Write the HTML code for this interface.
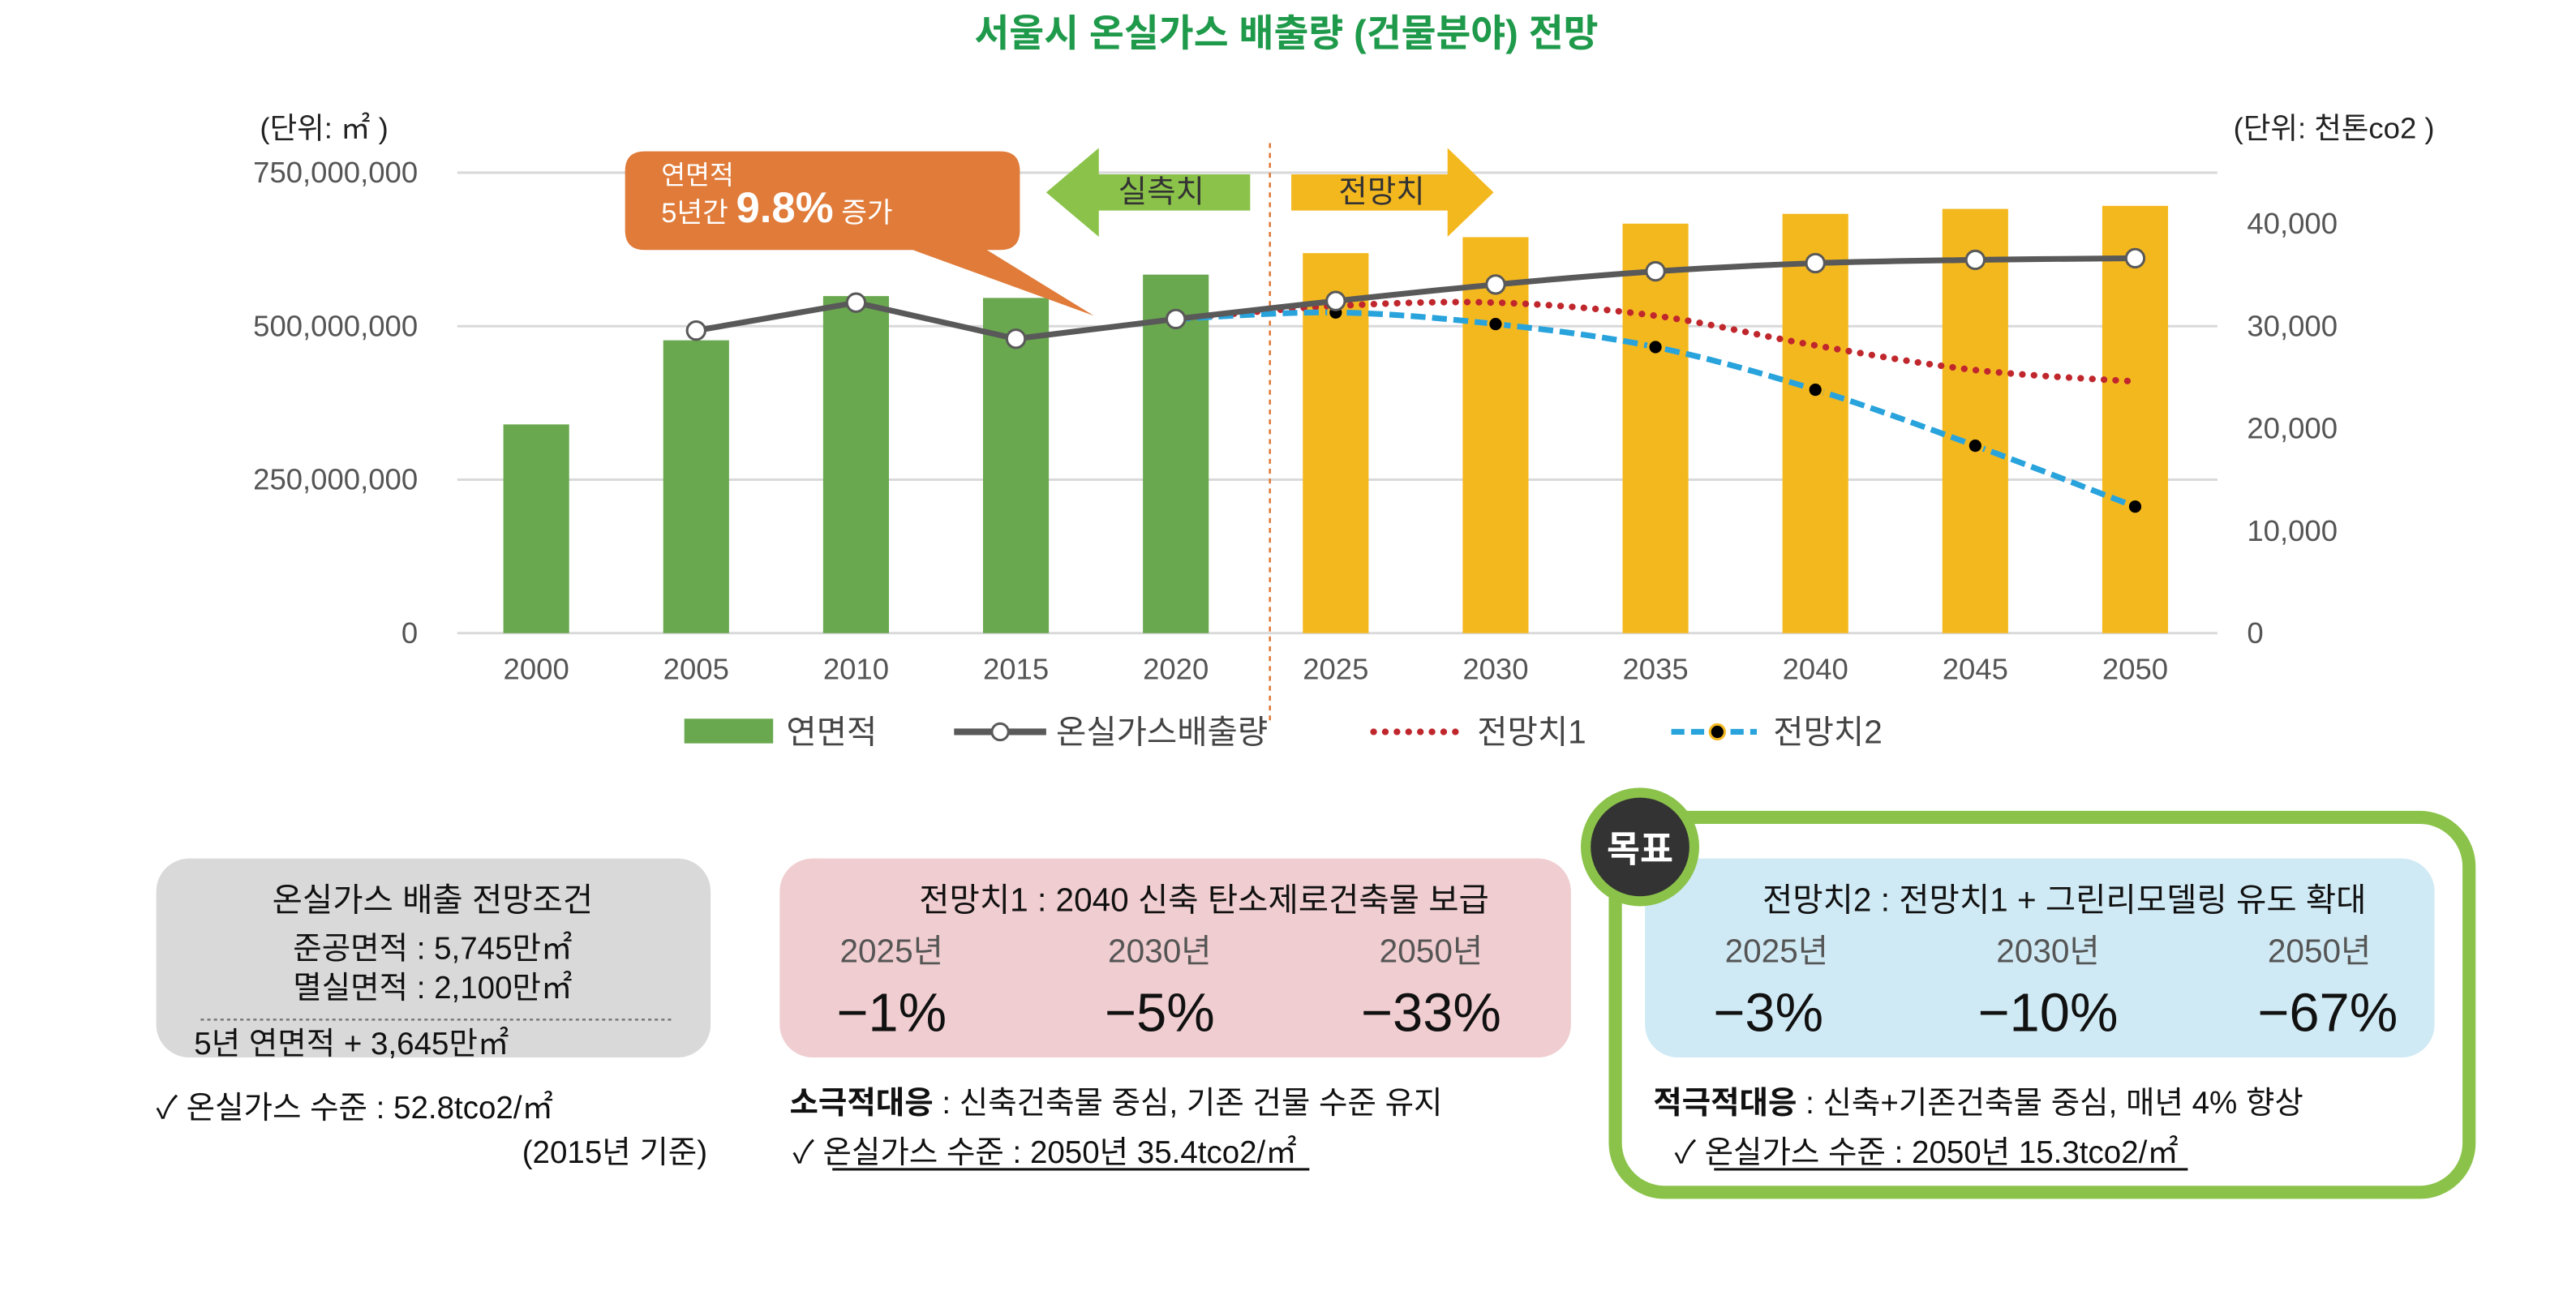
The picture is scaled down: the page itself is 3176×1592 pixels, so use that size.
<!DOCTYPE html>
<html><head><meta charset="utf-8">
<style>
html,body{margin:0;padding:0;background:#fff;}
svg{display:block;font-family:"Liberation Sans","Noto Sans CJK KR",sans-serif;}
</style></head>
<body>
<svg id="chart" width="3176" height="1592" viewBox="0 0 1566 785" preserveAspectRatio="none" xmlns="http://www.w3.org/2000/svg">
<text x="782" y="28" text-anchor="middle" font-size="23" font-weight="bold" fill="#1f9a4b">서울시 온실가스 배출량 (건물분야) 전망</text>
<text x="158" y="84" font-size="18" fill="#222">(단위: ㎡ )</text>
<text x="1480" y="84" text-anchor="end" font-size="18" fill="#222">(단위: 천톤co2 )</text>
<g id="grid"></g>
<g id="bars"></g>
<line x1="772" y1="87" x2="772" y2="440" stroke="#e07b39" stroke-width="1.3" stroke-dasharray="3,3"/>
<g id="lines"></g>
<g>
<path d="M392 92 H608 Q620 92 620 104 V140 Q620 152 608 152 H600 L665 192 L555 152 H392 Q380 152 380 140 V104 Q380 92 392 92 Z" fill="#e07b39"/>
<text x="402" y="112" font-size="16" fill="#fff">연면적</text>
<text x="402" y="135" font-size="17" fill="#fff">5년간 <tspan font-size="26" font-weight="bold">9.8%</tspan> 증가</text>
</g>
<g>
<path d="M636 117 L668 90 V106 H760 V128 H668 V144 Z" fill="#8bc34a"/>
<text x="706" y="123" text-anchor="middle" font-size="19" fill="#333">실측치</text>
</g>
<g>
<path d="M908 117 L880 90 V106 H785 V128 H880 V144 Z" fill="#f4b81f"/>
<text x="840" y="123" text-anchor="middle" font-size="19" fill="#333">전망치</text>
</g>
<g id="legend">
<rect x="416" y="437" width="54" height="15" fill="#6aa84f"/>
<text x="478" y="452" font-size="20" fill="#444">연면적</text>
<line x1="580" y1="445" x2="636" y2="445" stroke="#595959" stroke-width="4"/>
<circle cx="608" cy="445" r="5" fill="#fff" stroke="#595959" stroke-width="1.5"/>
<text x="642" y="452" font-size="20" fill="#444">온실가스배출량</text>
<line x1="835" y1="445" x2="890" y2="445" stroke="#c0272d" stroke-width="4" stroke-dasharray="0.1,7" stroke-linecap="round"/>
<text x="898" y="452" font-size="20" fill="#444">전망치1</text>
<line x1="1016" y1="445" x2="1068" y2="445" stroke="#29a3dc" stroke-width="3.5" stroke-dasharray="8,4"/>
<circle cx="1044" cy="445" r="4.5" fill="#000" stroke="#f4b81f" stroke-width="1.5"/>
<text x="1078" y="452" font-size="20" fill="#444">전망치2</text>
</g>

<g>
<rect x="95" y="522" width="337" height="121" rx="20" fill="#d9d9d9"/>
<text x="263" y="554" text-anchor="middle" font-size="20" fill="#111">온실가스 배출 전망조건</text>
<text x="263" y="583" text-anchor="middle" font-size="19" fill="#111">준공면적 : 5,745만㎡</text>
<text x="263" y="607" text-anchor="middle" font-size="19" fill="#111">멸실면적 : 2,100만㎡</text>
<line x1="122" y1="620" x2="408" y2="620" stroke="#777" stroke-width="1.2" stroke-dasharray="2,2"/>
<text x="118" y="641" font-size="19" fill="#111">5년 연면적  + 3,645만㎡</text>
<text x="95" y="680" font-size="19" fill="#111">✓ 온실가스 수준 : 52.8tco2/㎡</text>
<text x="430" y="707" text-anchor="end" font-size="19" fill="#111">(2015년 기준)</text>
</g>
<g>
<rect x="474" y="522" width="481" height="121" rx="20" fill="#f0cdd0"/>
<text x="732" y="554" text-anchor="middle" font-size="20" fill="#111">전망치1 : 2040 신축 탄소제로건축물 보급</text>
<text x="542" y="585" text-anchor="middle" font-size="20" fill="#555">2025년</text>
<text x="705" y="585" text-anchor="middle" font-size="20" fill="#555">2030년</text>
<text x="870" y="585" text-anchor="middle" font-size="20" fill="#555">2050년</text>
<text x="542" y="627" text-anchor="middle" font-size="33" fill="#111">−1%</text>
<text x="705" y="627" text-anchor="middle" font-size="33" fill="#111">−5%</text>
<text x="870" y="627" text-anchor="middle" font-size="33" fill="#111">−33%</text>
<text x="480" y="677" font-size="19" fill="#111"><tspan font-weight="bold">소극적대응</tspan> : 신축건축물 중심, 기존 건물 수준 유지</text>
<text x="482" y="707" font-size="19" fill="#111">✓ 온실가스 수준 : 2050년 35.4tco2/㎡</text>
<line x1="506" y1="711" x2="796" y2="711" stroke="#111" stroke-width="1.5"/>
</g>
<g>
<rect x="982" y="497" width="519" height="228" rx="30" fill="none" stroke="#8bc34a" stroke-width="8"/>
<rect x="1000" y="522" width="480" height="121" rx="20" fill="#d0eaf5"/>
<circle cx="997" cy="515" r="33" fill="#333" stroke="#8bc34a" stroke-width="6"/>
<text x="997" y="524" text-anchor="middle" font-size="22" font-weight="bold" fill="#fff">목표</text>
<text x="1255" y="554" text-anchor="middle" font-size="20" fill="#111">전망치2 : 전망치1 + 그린리모델링 유도 확대</text>
<text x="1080" y="585" text-anchor="middle" font-size="20" fill="#555">2025년</text>
<text x="1245" y="585" text-anchor="middle" font-size="20" fill="#555">2030년</text>
<text x="1410" y="585" text-anchor="middle" font-size="20" fill="#555">2050년</text>
<text x="1075" y="627" text-anchor="middle" font-size="33" fill="#111">−3%</text>
<text x="1245" y="627" text-anchor="middle" font-size="33" fill="#111">−10%</text>
<text x="1415" y="627" text-anchor="middle" font-size="33" fill="#111">−67%</text>
<text x="1005" y="677" font-size="19" fill="#111"><tspan font-weight="bold">적극적대응</tspan> : 신축+기존건축물 중심, 매년 4% 향상</text>
<text x="1018" y="707" font-size="19" fill="#111">✓ 온실가스 수준 : 2050년 15.3tco2/㎡</text>
<line x1="1042" y1="711" x2="1330" y2="711" stroke="#111" stroke-width="1.5"/>
</g>
</svg>
<script>
const years = ['2000','2005','2010','2015','2020','2025','2030','2035','2040','2045','2050'];
const floorArea = [340e6,477e6,549e6,546e6,584e6,619e6,645e6,667e6,683e6,691e6,696e6];
const emissions = [null,29570,32300,28770,30700,32460,34070,35360,36160,36480,36640];
const forecast1 = [null,null,null,null,30700,31980,32300,31020,28120,25710,24590];
const forecast2 = [null,null,null,null,30700,31340,30210,27960,23790,18320,12370];
const leftTicks = [0,250e6,500e6,750e6];
const leftTickLabels = ['0','250,000,000','500,000,000','750,000,000'];
const rightTicks = [0,10000,20000,30000,40000];
const rightTickLabels = ['0','10,000','20,000','30,000','40,000'];

const NS='http://www.w3.org/2000/svg';
const x0=278,x1=1348,yb=385,yt=105;
const xc=i=>326+i*97.2;
const yL=v=>yb-(v/750e6)*(yb-yt);
const yR=v=>yb-(v/45000)*(yb-yt);
function mk(tag,attrs,parent){const e=document.createElementNS(NS,tag);for(const k in attrs)e.setAttribute(k,attrs[k]);parent.appendChild(e);return e;}
const grid=document.getElementById('grid'),bars=document.getElementById('bars'),lines=document.getElementById('lines');
leftTicks.forEach((t,i)=>{
  const l=mk('line',{x1:x0,x2:x1,y1:yL(t),y2:yL(t),stroke:'#d9d9d9','stroke-width':1.5},grid);
  
  
  const tx=mk('text',{x:254,y:yL(t)+6,'text-anchor':'end','font-size':18,fill:'#555'},grid);
  tx.textContent=leftTickLabels[i];
  
  
});
rightTicks.forEach((t,i)=>{
  const tx=mk('text',{x:1366,y:yR(t)+6,'font-size':18,fill:'#555'},grid);
  tx.textContent=rightTickLabels[i];
  
  
});
years.forEach((y,i)=>{
  const tx=mk('text',{x:xc(i),y:413,'text-anchor':'middle','font-size':18,fill:'#555'},grid);
  tx.textContent=y;
  
  
  const b=mk('rect',{x:xc(i)-20,y:yL(floorArea[i]),width:40,height:yb-yL(floorArea[i]),fill:i<=4?'#6aa84f':'#f4b81f'},bars);
  
  
});
function pts(arr){return arr.map((v,i)=>v==null?null:[xc(i),yR(v)]).filter(p=>p);}
function smooth(p){let d='M'+p[0][0]+' '+p[0][1];for(let i=0;i<p.length-1;i++){const a=p[i-1]||p[i],b=p[i],c=p[i+1],e=p[i+2]||c;
 d+=' C'+(b[0]+(c[0]-a[0])/6)+' '+(b[1]+(c[1]-a[1])/6)+' '+(c[0]-(e[0]-b[0])/6)+' '+(c[1]-(e[1]-b[1])/6)+' '+c[0]+' '+c[1];}return d;}
const p1=pts(forecast1);
const l1=mk('path',{d:smooth(p1),fill:'none',stroke:'#c0272d','stroke-width':4,'stroke-dasharray':'0.1,7','stroke-linecap':'round'},lines);


const p2=pts(forecast2);
const l2=mk('path',{d:smooth(p2),fill:'none',stroke:'#29a3dc','stroke-width':3.5,'stroke-dasharray':'9,4'},lines);


const pe=pts(emissions);
const le=mk('path',{d:'M'+pe.slice(0,4).map(p=>p.join(' ')).join(' L')+' '+smooth(pe.slice(3)).slice(1).replace(/^[^C]*/,''),fill:'none',stroke:'#595959','stroke-width':3.5},lines);


p2.forEach(p=>{const c=mk('circle',{cx:p[0],cy:p[1],r:4.5,fill:'#000',stroke:'#f4b81f','stroke-width':1.5},lines);
 
 });
pe.forEach(p=>{const c=mk('circle',{cx:p[0],cy:p[1],r:5.5,fill:'#fff',stroke:'#595959','stroke-width':1.5},lines);
 
 });
</script>
</body></html>
